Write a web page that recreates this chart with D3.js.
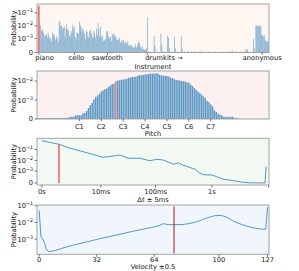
<!DOCTYPE html>
<html><head><meta charset="utf-8">
<script src="https://cdn.jsdelivr.net/npm/d3@7"></script>
<style>
body{margin:0;background:#fff}
svg{display:block}
text{font-family:"DejaVu Sans",sans-serif;fill:#111}
</style>
</head><body>
<svg id="c" width="299" height="271"></svg>
<script>
// ---------------- DATA ----------------
// Instrument distribution: 128 GM programs, 128 drum kits, 16 anonymous slots
const instrumentProbs = [
 0.35, 0.016, 0.011, 0.0045, 0.006, 0.0035, 0.0025, 0.0014,
 0.0018, 0.0022, 0.0012, 0.0028, 0.0016, 0.0009, 0.0011, 0.0006,
 0.0030, 0.0019, 0.0024, 0.0013, 0.0007, 0.0015, 0.0010, 0.0005,
 0.019, 0.024, 0.0085, 0.011, 0.006, 0.0075, 0.0090, 0.0012,
 0.0060, 0.013, 0.0050, 0.0045, 0.0018, 0.0015, 0.0040, 0.0028,
 0.012, 0.0060, 0.0080, 0.0014, 0.0009, 0.0030, 0.0028, 0.0024,
 0.022, 0.0110, 0.0075, 0.0030, 0.0065, 0.0040, 0.0025, 0.0009,
 0.0045, 0.0032, 0.0016, 0.0011, 0.0038, 0.0050, 0.0026, 0.0015,
 0.0010, 0.0040, 0.0028, 0.0012, 0.0060, 0.0020, 0.016, 0.0055,
 0.0014, 0.0090, 0.0013, 0.0018, 0.0006, 0.0008, 0.0007, 0.0009,
 0.0035, 0.0040, 0.0016, 0.0009, 0.0012, 0.0014, 0.0006, 0.0022,
 0.0018, 0.0026, 0.0013, 0.0015, 0.0008, 0.0007, 0.0009, 0.0011,
 0.0005, 0.0004, 0.0007, 0.0006, 0.0008, 0.0004, 0.0005, 0.0003,
 0.0004, 0.0006, 0.0002, 0.0003, 0.0002, 0.00025, 0.0002, 0.0001,
 0.00012, 0.00015, 0.0003, 0.00012, 0.0002, 0.00035, 0.0005, 0.0004,
 0.00015, 0.0001, 0.0002, 0.00008, 0.00006, 0.00007, 0.00005, 0.0001
];
const drumkitProbs = [
 0.045, 0, 0, 0, 0.00002, 0, 0, 0, 0.0015, 0.0002, 0, 0, 0.00002, 0, 0, 0,
 0.0025, 0.0003, 0, 0, 0.00002, 0, 0, 0, 0.0016, 0.0012, 0.0001, 0, 0, 0.00002, 0, 0,
 0.0015, 0.0001, 0, 0, 0.00002, 0, 0, 0, 0.0016, 0.0001, 0, 0, 0.00002, 0, 0, 0,
 0.00004, 0, 0, 0, 0.00002, 0, 0, 0, 0.00003, 0, 0, 0, 0.00002, 0, 0, 0,
 0.00003, 0, 0, 0, 0, 0, 0, 0, 0.00002, 0, 0, 0, 0, 0, 0, 0,
 0.00002, 0, 0, 0, 0, 0, 0, 0, 0.00002, 0, 0, 0, 0, 0, 0, 0,
 0.00002, 0, 0, 0, 0.00005, 0, 0, 0, 0.00002, 0, 0, 0, 0, 0, 0.00002, 0,
 0, 0, 0, 0.00006, 0, 0.00008, 0.00005, 0, 0.00002, 0, 0, 0, 0, 0.0009, 0.0001, 0
];
const anonymousProbs = [0.010, 0.011, 0.009, 0.011, 0.010, 0.009, 0.010, 0.0018,
 0.002, 0.0015, 0.0018, 0.0006, 0.0007, 0.0005, 0.0006, 0.0005];
const instrumentTicks = [0, 42, 81, 128, 263.5];
const instrumentTickLabels = ["piano", "cello", "sawtooth", "drumkits \u2192", "anonymous"];
const sampledInstrument = 0;

// Pitch distribution, MIDI 0..127
const pitchProbs = [
 1.5e-5, 1.2e-5, 1.5e-5, 1.3e-5, 1.5e-5, 1.2e-5, 1.4e-5, 1.5e-5,
 1.3e-5, 1.5e-5, 1.4e-5, 1.5e-5, 1.6e-5, 1.4e-5, 1.5e-5, 1.6e-5,
 1.5e-5, 1.8e-5, 2.0e-5, 3.8e-5, 3.5e-5, 4.0e-5, 7e-5, 6.5e-5,
 7.5e-5, 7e-5, 1.2e-4, 1.3e-4, 2e-4, 3.3e-4, 5e-4, 7e-4,
 1.1e-3, 1.5e-3, 1.8e-3, 2.2e-3, 2.9e-3, 3.3e-3, 3.8e-3, 4.2e-3,
 5e-3, 6e-3, 6.8e-3, 7.4e-3, 1.0e-2, 1.05e-2, 1.1e-2, 1.15e-2,
 1.2e-2, 1.25e-2, 1.3e-2, 1.45e-2, 1.5e-2, 1.6e-2, 1.62e-2, 1.67e-2,
 1.8e-2, 2.0e-2, 1.95e-2, 2.05e-2, 2.2e-2, 2.15e-2, 2.3e-2, 2.35e-2,
 2.4e-2, 2.4e-2, 2.45e-2, 2.4e-2, 2.1e-2, 1.9e-2, 1.85e-2, 1.85e-2,
 1.8e-2, 1.7e-2, 1.45e-2, 1.4e-2, 1.25e-2, 1.15e-2, 1.1e-2, 1.05e-2,
 1.0e-2, 9.8e-3, 9.5e-3, 8.5e-3, 8.2e-3, 6.6e-3, 5.5e-3, 4.4e-3,
 3.6e-3, 2.9e-3, 2.4e-3, 2.0e-3, 1.6e-3, 1.3e-3, 9e-4, 7.7e-4,
 5.5e-4, 4.1e-4, 2.3e-4, 1.6e-4, 1.1e-4, 8.5e-5, 6.7e-5, 3.8e-5,
 3.8e-5, 3.6e-5, 3.8e-5, 3.5e-5, 3.8e-5, 1.6e-5, 1.6e-5, 4e-6,
 3e-6, 3e-6, 2e-6, 2e-6, 2e-6, 2e-6, 2e-6, 2e-6,
 2e-6, 2e-6, 2e-6, 2e-6, 2e-6, 2e-6, 2e-6, 2e-6
];
const pitchTicks = [24, 36, 48, 60, 72, 84, 96];
const pitchTickLabels = ["C1", "C2", "C3", "C4", "C5", "C6", "C7"];
const sampledPitch = 44;

// Onset time difference distribution (ms)
const dtMs = [0, 1, 2, 5, 11, 16, 23, 32, 53, 70, 80, 105, 137, 168, 207, 254, 310,
 409, 501, 614, 705, 990, 1210, 1590, 2380, 3570, 4700, 8660, 9000];
const dtProbs = [0.62, 0.30, 0.14, 0.053, 0.0195, 0.024, 0.0315, 0.0158, 0.0158, 0.011,
 0.0095, 0.0127, 0.011, 0.0072, 0.0045, 0.0059, 0.0036, 0.0022, 0.0015, 6e-4, 4.2e-4,
 3.9e-4, 2.5e-4, 1.05e-4, 5.6e-5, 1.4e-5, 3e-6, 1e-6, 2.6e-3];
const dtTicks = [0, 10, 100, 1000, 10000];
const dtTickLabels = ["0s", "10ms", "100ms", "1s", ""];
const sampledDt = 1;

// Velocity distribution
const velocities = [0, 1, 2, 3, 4, 5, 6, 8, 10, 15, 20, 25, 30, 34, 40, 46, 52, 58, 62, 65,
 67, 69, 70, 72, 76, 80, 83, 86, 89, 91, 94, 96, 98, 100, 102, 104, 106, 108, 110, 113,
 116, 119, 121, 124, 126, 127];
const velocityProbs = [0.053, 1.3e-3, 1.05e-3, 6e-4, 2.5e-4, 1.9e-4, 1.85e-4, 2.0e-4, 2.3e-4,
 3.4e-4, 4.7e-4, 6.3e-4, 8.5e-4, 1.1e-3, 1.5e-3, 2.1e-3, 2.95e-3, 4.0e-3, 4.9e-3, 5.8e-3,
 6.7e-3, 8.5e-3, 8.0e-3, 7.4e-3, 7.4e-3, 7.6e-3, 8.4e-3, 9.8e-3, 1.25e-2, 1.5e-2, 1.95e-2,
 2.3e-2, 2.55e-2, 2.65e-2, 2.5e-2, 2.1e-2, 1.6e-2, 1.2e-2, 9.5e-3, 7.3e-3, 5.8e-3, 4.8e-3,
 4.3e-3, 4.0e-3, 3.9e-3, 0.083];
const velocityTicks = [0, 32, 64, 100, 127];
const sampledVelocity = 75;

// ---------------- DRAW ----------------
const svg = d3.select('#c');
const FS = 6.7;
const L = 37, R = 269;
const BLUE = '#1f77b4', RED = '#f07878';
const instrumentAll = instrumentProbs.concat(drumkitProbs, anonymousProbs);

function panelBg(top, bottom, fill) {
  svg.append('rect').attr('x', L).attr('y', top).attr('width', R - L).attr('height', bottom - top).attr('fill', fill);
}
function frame(top, bottom) {
  svg.append('rect').attr('x', L).attr('y', top).attr('width', R - L).attr('height', bottom - top)
    .attr('fill', 'none').attr('stroke', '#9a9a9a').attr('stroke-width', 0.9);
}
function yLabel(top, bottom) {
  svg.append('text').attr('transform', `translate(15.5,${(top + bottom) / 2}) rotate(-90)`)
    .attr('text-anchor', 'middle').attr('font-size', FS).text('Probability');
}
function yTick(y, v, exp) {
  const py = y(v);
  svg.append('line').attr('x1', L - 2.5).attr('x2', L).attr('y1', py).attr('y2', py).attr('stroke', '#444').attr('stroke-width', 0.7);
  const t = svg.append('text').attr('x', L - 4).attr('y', py + 2.4).attr('text-anchor', 'end').attr('font-size', FS);
  if (exp === null) t.text('0');
  else {
    t.append('tspan').text('10');
    t.append('tspan').attr('dy', -2.8).attr('font-size', 4.8).text('\u2212' + exp);
  }
}
function xTicks(x, bottom, vals, labels, base, anchors, dxs) {
  vals.forEach((v, i) => {
    const px = x(v);
    svg.append('line').attr('x1', px).attr('x2', px).attr('y1', bottom).attr('y2', bottom + 2.5).attr('stroke', '#444').attr('stroke-width', 0.7);
    if (labels[i]) svg.append('text').attr('x', px + (dxs ? dxs[i] : 0)).attr('y', base)
      .attr('text-anchor', anchors ? anchors[i] : 'middle').attr('font-size', FS).text(labels[i]);
  });
}
function xLabel(text, base) {
  svg.append('text').attr('x', (L + R) / 2).attr('y', base).attr('text-anchor', 'middle').attr('font-size', FS).text(text);
}

// Panel 1: instruments
{
  const top = 4, bottom = 52.5;
  panelBg(top, bottom, '#fdf6f1');
  const x = d3.scaleLinear().domain([-2.1, instrumentAll.length - 0.5]).range([L, R]);
  const y = d3.scaleSymlog().constant(9e-5).domain([0, 0.48]).range([bottom, top]);
  const step = x(1) - x(0);
  svg.append('g').selectAll('rect').data(instrumentAll.map((v, i) => ({v, i})).filter(d => d.v > 0 && d.i !== sampledInstrument))
    .join('rect').attr('x', d => x(d.i) - step * 0.4).attr('width', step * 0.8)
    .attr('y', d => y(d.v)).attr('height', d => y(0) - y(d.v)).attr('fill', BLUE).attr('fill-opacity', 0.6);
  svg.append('rect').attr('x', x(sampledInstrument) - 1).attr('width', 2)
    .attr('y', y(instrumentAll[sampledInstrument])).attr('height', y(0) - y(instrumentAll[sampledInstrument])).attr('fill', RED);
  frame(top, bottom);
  yTick(y, 0, null); yTick(y, 1e-3, 3); yTick(y, 1e-2, 2); yTick(y, 1e-1, 1);
  xTicks(x, bottom, instrumentTicks, instrumentTickLabels, 60, ['start', 'middle', 'middle', 'start', 'middle'], [-3.5, 2, 0, -2, 0]);
  xLabel('Instrument', 69);
  yLabel(top, bottom);
}

// Panel 2: pitch
{
  const top = 71, bottom = 119;
  panelBg(top, bottom, '#fdf0f0');
  const x = d3.scaleLinear().domain([0.8, 127.9]).range([L, R]);
  const y = d3.scaleSymlog().constant(1.3e-4).domain([0, 0.032]).range([bottom, top]);
  const step = x(1) - x(0);
  const g = svg.append('g');
  g.selectAll('rect').data(pitchProbs.map((v, i) => ({v, i})).filter(d => d.i >= 1))
    .join('rect').attr('x', d => x(d.i) - step * 0.4).attr('width', step * 0.8)
    .attr('y', d => y(d.v)).attr('height', d => y(0) - y(d.v))
    .attr('fill', d => d.i === sampledPitch ? RED : BLUE).attr('fill-opacity', d => d.i === sampledPitch ? 1 : 0.72);
  frame(top, bottom);
  yTick(y, 0, null); yTick(y, 1e-3, 3); yTick(y, 1e-2, 2);
  xTicks(x, bottom, pitchTicks, pitchTickLabels, 129);
  xLabel('Pitch', 135.5);
  yLabel(top, bottom);
}

// Panel 3: onset delta
{
  const top = 138.3, bottom = 185;
  panelBg(top, bottom, '#f2f8f2');
  const x = d3.scaleSymlog().constant(1).domain([-0.22, 10150]).range([L, R]);
  const y = d3.scaleSymlog().constant(9e-5).domain([-4.7e-5, 1.04]).range([bottom, top]);
  const si = dtMs.indexOf(sampledDt);
  svg.append('line').attr('x1', x(sampledDt)).attr('x2', x(sampledDt)).attr('y1', y(0)).attr('y2', y(dtProbs[si]))
    .attr('stroke', RED).attr('stroke-width', 1.8);
  svg.append('path').datum(dtMs.map((t, i) => [t, dtProbs[i]]))
    .attr('d', d3.line().x(d => x(d[0])).y(d => y(d[1])))
    .attr('fill', 'none').attr('stroke', BLUE).attr('stroke-opacity', 0.75).attr('stroke-width', 1);
  frame(top, bottom);
  yTick(y, 0, null); yTick(y, 1e-3, 3); yTick(y, 1e-2, 2); yTick(y, 1e-1, 1);
  xTicks(x, bottom, dtTicks, dtTickLabels, 194);
  xLabel('\u0394t \u00b1 5ms', 202);
  yLabel(top, bottom);
}

// Panel 4: velocity
{
  const top = 205, bottom = 254.3;
  panelBg(top, bottom, '#f1f6fc');
  const x = d3.scaleLinear().domain([-1.2, 127.8]).range([L, R]);
  const y = d3.scaleLog().domain([1.25e-4, 0.11]).range([bottom, top]);
  svg.append('path').datum(velocities.map((v, i) => [v, velocityProbs[i]]))
    .attr('d', d3.line().x(d => x(d[0])).y(d => y(d[1])))
    .attr('fill', 'none').attr('stroke', BLUE).attr('stroke-opacity', 0.75).attr('stroke-width', 1);
  svg.append('line').attr('x1', x(sampledVelocity)).attr('x2', x(sampledVelocity)).attr('y1', top + 1.5).attr('y2', bottom - 1)
    .attr('stroke', '#a51414').attr('stroke-width', 1);
  frame(top, bottom);
  yTick(y, 1e-3, 3); yTick(y, 1e-2, 2); yTick(y, 1e-1, 1);
  xTicks(x, bottom, velocityTicks, velocityTicks.map(String), 261.7);
  xLabel('Velocity \u00b10.5', 268.8);
  yLabel(top, bottom);
}
</script>
</body></html>
